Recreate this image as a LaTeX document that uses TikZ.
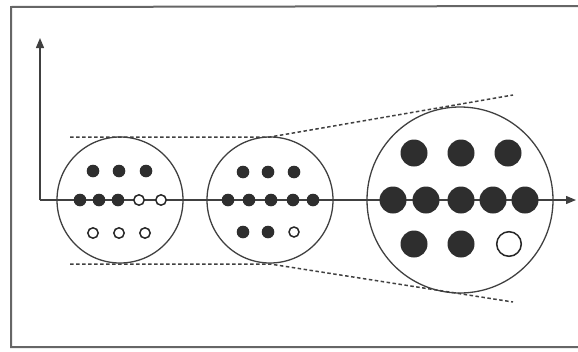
\documentclass[tikz,border=0pt]{standalone}
\usepackage{tikz}
\usetikzlibrary{arrows.meta, positioning, calc}
\tikzset{
    cerchio/.style={draw=black!75, line width=1.3pt, circle, inner sep=0pt, minimum size=#1},
    pieno/.style={fill=black!82},
    vuoto/.style={draw=black!85, line width=1.5pt, fill=white},
    tratto/.style={black!75, line width=1.5pt, dash pattern=on 3.5pt off 2.5pt},
    asse/.style={-{Triangle[width=8pt,length=10pt]}, black!75, line width=1.3pt}
}

\begin{document}
\begin{tikzpicture}[x=1pt, y=-1pt]
    \useasboundingbox (0,0) rectangle (578,351);
    % Cornice
    \draw[black!60, line width=2pt] (578,6) -- (11,7) -- (11,347) -- (578,347);

    % Assi
    \coordinate (o) at (40,200);
    \coordinate (ytip) at (40,38);
    \coordinate (xtip) at (576,200);
    \draw[asse] (o) -- (ytip);
    \draw[asse] (o) -- (xtip);

    % Cerchi
    \node[cerchio=126pt] (c1) at (120,200) {};
    \node[cerchio=126pt] (c2) at (270,200) {};
    \node[cerchio=186pt] (c3) at (460,200) {};

    % Rette tratteggiate (inviluppo)
    \coordinate (t0) at (70,137);
    \coordinate (t1) at (270,137);
    \coordinate (t2) at (513,95);
    \coordinate (b0) at (70,264);
    \coordinate (b1) at (270,264);
    \coordinate (b2) at (513,302);
    \draw[tratto] (t0) -- (t1) -- (t2);
    \draw[tratto] (b0) -- (b1) -- (b2);

    % Primo cerchio
    \foreach \x/\y in {93/171, 119/171, 146/171, 80/200, 99/200, 118/200}
        \fill[pieno] (\x,\y) circle (6.3);
    \foreach \x/\y in {139/200, 161/200, 93/233, 119/233, 145/233}
        \draw[vuoto] (\x,\y) circle (5.2);

    % Secondo cerchio
    \foreach \x/\y in {243/172, 268/172, 294/172, 228/200, 249/200, 271/200, 293/200, 313/200, 243/232, 268/232}
        \fill[pieno] (\x,\y) circle (6.3);
    \draw[vuoto] (294,232) circle (5);

    % Terzo cerchio
    \foreach \x/\y in {414/153, 461/153, 508/153, 393/200, 426/200, 461/200, 493/200, 525/200, 414/244, 461/244}
        \fill[pieno] (\x,\y) circle (13.5);
    \draw[vuoto] (509,244) circle (12.3);
\end{tikzpicture}
\end{document}
